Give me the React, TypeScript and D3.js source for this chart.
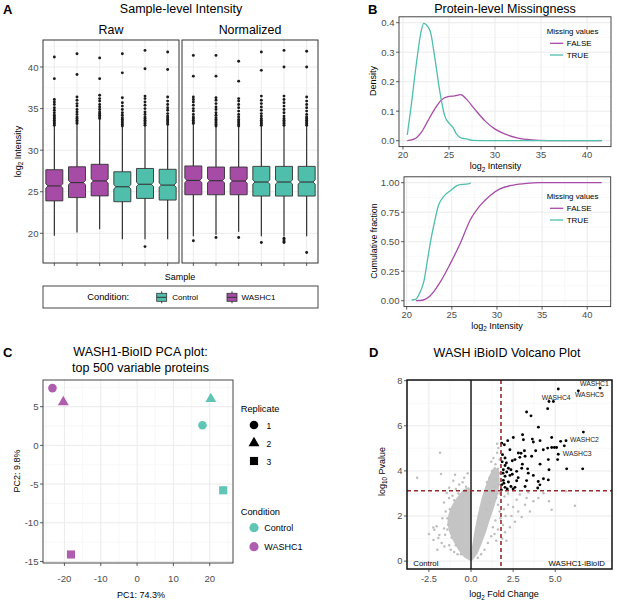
import React from 'react';
import * as d3 from 'd3';

const FONT = '"Liberation Sans", Arial, Helvetica, sans-serif';
const TEAL = '#4fbfac';
const PURPLE = '#a64ca6';
const INK = '#333333';
const TICK = '#4d4d4d';
const MAJOR = '#ebebeb';
const MINOR = '#f4f4f4';

// ---------- A: sample-level intensity ----------
const samples = ['1', '2', '3', '4', '5', '6'];
const sampleCondition = ['WASHC1', 'WASHC1', 'WASHC1', 'Control', 'Control', 'Control'];
const facets = ['Raw', 'Normalized'];
const rawQ1 = [23.9, 24.3, 24.5, 23.8, 24.2, 24.0];
const rawMedian = [25.7, 26.1, 26.3, 25.6, 25.9, 25.8];
const rawQ3 = [27.65, 28.0, 28.3, 27.4, 27.8, 27.7];
const rawLow = [19.7, 20.1, 20.5, 19.3, 19.3, 19.3];
const rawHigh = [32.9, 33.1, 33.7, 32.8, 32.9, 33.0];
const rawOutliers = [
  [33.0, 33.2, 33.4, 33.6, 33.8, 34.0, 34.2, 34.5, 34.8, 35.1, 35.5, 35.8, 36.1, 38.6, 41.2],
  [33.2, 33.4, 33.6, 33.8, 34.0, 34.3, 34.6, 34.9, 35.3, 35.6, 36.0, 36.4, 39.1, 41.6],
  [33.8, 34.0, 34.2, 34.4, 34.6, 34.9, 35.2, 35.5, 35.9, 36.2, 36.6, 38.6, 41.1],
  [32.9, 33.1, 33.3, 33.5, 33.7, 33.9, 34.2, 34.5, 34.9, 35.3, 35.7, 36.3, 39.3, 41.6],
  [33.0, 33.2, 33.4, 33.6, 33.8, 34.0, 34.3, 34.6, 35.0, 35.4, 35.8, 36.2, 36.5, 39.8, 42.0, 18.4],
  [33.1, 33.3, 33.5, 33.7, 33.9, 34.1, 34.4, 34.8, 35.1, 35.5, 35.9, 36.4, 39.7, 41.8],
];
const normQ1 = [24.64, 24.64, 24.64, 24.48, 24.48, 24.48];
const normMedian = [26.36, 26.33, 26.29, 26.17, 26.17, 26.17];
const normQ3 = [28.1, 27.97, 27.97, 28.05, 28.05, 28.05];
const normLow = [19.66, 19.82, 20.2, 19.66, 19.66, 19.66];
const normHigh = [33.1, 32.8, 32.8, 32.9, 32.9, 32.9];
const normOutliers = [
  [33.2, 33.4, 33.6, 33.8, 34.0, 34.3, 34.7, 35.0, 35.4, 35.8, 36.1, 36.4, 38.9, 41.4, 19.1],
  [32.9, 33.1, 33.3, 33.5, 33.7, 33.9, 34.2, 34.5, 34.9, 35.2, 35.6, 36.0, 36.3, 38.9, 41.4, 19.5],
  [32.9, 33.1, 33.3, 33.5, 33.7, 34.0, 34.3, 34.7, 35.1, 35.5, 35.9, 36.2, 38.3, 40.7, 19.5],
  [33.0, 33.2, 33.4, 33.6, 33.8, 34.1, 34.4, 34.8, 35.2, 35.6, 36.0, 36.5, 39.6, 41.8, 18.9],
  [33.0, 33.2, 33.4, 33.6, 33.8, 34.1, 34.5, 34.9, 35.3, 35.7, 36.1, 36.5, 40.0, 42.0, 19.4, 19.2, 19.0, 18.9],
  [33.0, 33.2, 33.4, 33.6, 33.8, 34.0, 34.3, 34.7, 35.1, 35.5, 35.9, 36.4, 40.0, 41.9, 17.7],
];
const intensityTicks = [20, 25, 30, 35, 40];
const intensityMinor = [17.5, 22.5, 27.5, 32.5, 37.5, 42.5];

// ---------- B: protein-level missingness ----------
const densTrueX = [20.47, 20.9, 21.45, 21.99, 22.25, 22.72, 23.0, 23.45, 23.99, 24.53, 25.08, 25.43, 25.8, 26.34, 26.9, 27.6, 30, 35, 41.6];
const densTrueY = [0.02, 0.12, 0.26, 0.373, 0.398, 0.386, 0.367, 0.283, 0.17, 0.085, 0.057, 0.045, 0.023, 0.009, 0.006, 0.001, 0, 0, 0];
const densFalseX = [20.47, 21.27, 21.99, 22.72, 23.45, 24.17, 24.89, 25.62, 26.27, 26.89, 27.79, 28.88, 29.97, 31.05, 32.5, 33.95, 35.76, 38, 41.6];
const densFalseY = [0.0, 0.006, 0.028, 0.068, 0.107, 0.138, 0.149, 0.152, 0.156, 0.141, 0.107, 0.068, 0.04, 0.023, 0.009, 0.003, 0.0005, 0, 0];
const cdfTrueX = [20.55, 21.03, 21.47, 21.92, 22.29, 22.66, 23.03, 23.51, 24.06, 24.8, 25.72, 26.83, 27.1];
const cdfTrueY = [0.006, 0.014, 0.071, 0.17, 0.34, 0.51, 0.65, 0.805, 0.88, 0.93, 0.98, 0.99, 1.0];
const cdfFalseX = [21.03, 21.84, 22.58, 23.69, 24.8, 25.9, 27.01, 28.12, 29.22, 30.33, 31.8, 33.28, 34.76, 41.6];
const cdfFalseY = [0, 0.006, 0.04, 0.155, 0.31, 0.48, 0.68, 0.805, 0.89, 0.947, 0.98, 0.995, 1.0, 1.0];
const missTicksX = [20, 25, 30, 35, 40];
const missMinorX = [22.5, 27.5, 32.5, 37.5];
const densTicks = [0, 0.1, 0.2, 0.3, 0.4];
const densMinor = [0.05, 0.15, 0.25, 0.35];
const cdfTicks = [0, 0.25, 0.5, 0.75, 1];
const cdfMinor = [0.125, 0.375, 0.625, 0.875];

// ---------- C: PCA ----------
const pcaCondition = ['WASHC1', 'WASHC1', 'WASHC1', 'Control', 'Control', 'Control'];
const pcaReplicate = [1, 2, 3, 1, 2, 3];
const pc1 = [-23.3, -20.3, -18.2, 18.0, 20.3, 23.7];
const pc2 = [7.4, 5.6, -14.1, 2.6, 6.0, -5.8];
const pc1Ticks = [-20, -10, 0, 10, 20];
const pc1Minor = [-25, -15, -5, 5, 15, 25];
const pc2Ticks = [-15, -10, -5, 0, 5];
const pc2Minor = [-12.5, -7.5, -2.5, 2.5, 7.5];

// ---------- D: volcano ----------
const fcCutoff = 1.78;
const pCutoff = 3.12;
const leftCore = [[-0.03, 0.04], [-0.4, 0.2], [-0.75, 0.55], [-1.05, 0.95], [-1.25, 1.3], [-1.36, 1.7], [-1.3, 2.05], [-1.12, 2.42], [-0.85, 2.75], [-0.6, 3.0], [-0.35, 3.18], [-0.15, 3.25], [-0.03, 3.1]];
const rightCore = [[0.03, 0.04], [0.35, 0.35], [0.6, 0.8], [0.85, 1.3], [1.1, 1.9], [1.35, 2.45], [1.55, 2.95], [1.66, 3.5], [1.62, 4.0], [1.4, 4.15], [1.14, 3.8], [0.92, 3.35], [0.68, 2.8], [0.44, 2.05], [0.24, 1.3], [0.09, 0.57]];
const greyPoints = [
  [-3.2, 3.7], [-1.84, 4.8], [-1.78, 3.86], [-0.95, 3.83], [-1.05, 3.56], [-1.44, 3.02], [-1.3, 3.25], [-2.04, 1.54],
  [-2.18, 1.39], [-1.94, 1.02], [-2.23, 0.94], [-1.74, 0.8], [-1.6, 1.45], [-1.54, 1.17], [-1.58, 0.65], [-2.24, 1.49],
  [-1.88, 1.16], [-1.7, 1.9], [-1.5, 2.2], [-1.6, 2.6], [-1.3, 2.8], [-0.9, 3.2], [-0.7, 3.4], [-0.5, 3.5], [-1.2, 0.5],
  [-1.0, 0.4], [-0.8, 0.3], [-1.4, 1.9], [-2.5, 1.2], [-2.0, 0.5], [-1.3, 0.7], [-0.4, 3.7], [-0.2, 3.9], [-0.3, 3.3],
  [-1.1, 2.9], [-1.35, 1.6], [-1.25, 2.3], [-1.4, 1.4], [-0.9, 0.7], [-1.15, 1.05], [-0.6, 0.3], [-1.0, 2.7], [-0.75, 3.0],
  [1.33, 4.57], [1.62, 5.01], [1.55, 4.8], [1.45, 4.3], [1.6, 4.1], [1.7, 3.9], [1.25, 4.0], [1.1, 3.7], [1.5, 3.6],
  [1.65, 3.4], [1.4, 3.3], [1.7, 4.5], [1.2, 4.4], [0.95, 3.5], [1.55, 5.2],
  [1.99, 2.87], [2.2, 3.0], [2.71, 2.72], [2.9, 2.95], [3.21, 2.5], [3.5, 2.2], [3.7, 2.65], [4.0, 2.8], [4.63, 2.65],
  [4.79, 2.28], [6.17, 2.45], [4.3, 3.01], [3.4, 3.05], [3.01, 1.96], [2.61, 1.74], [2.31, 1.5], [2.02, 1.28], [2.5, 2.4],
  [2.8, 2.2], [2.2, 2.5], [2.05, 2.0], [1.9, 1.6], [1.95, 2.3], [2.4, 2.0], [3.3, 2.8], [5.64, 3.1], [2.1, 0.9], [1.85, 1.0],
  [1.5, 2.8], [1.6, 2.5], [1.7, 2.2], [1.45, 1.8], [1.3, 1.5], [1.6, 1.4], [1.2, 1.1], [1.0, 0.8], [0.8, 0.5], [1.4, 1.2],
  [1.75, 1.9], [1.1, 2.6], [0.9, 2.3], [1.7, 3.0], [1.3, 3.1], [0.6, 0.3], [0.4, 0.15], [1.5, 0.9],
];
const sigPoints = [
  [7.66, 7.67], [6.37, 7.55], [5.18, 7.63], [4.63, 7.08], [4.89, 7.08], [4.55, 6.76], [3.3, 6.61], [3.56, 6.44], [4.0, 5.94],
  [6.67, 5.72], [3.06, 5.6], [2.51, 5.48], [2.18, 5.34], [3.11, 5.38], [3.64, 5.41], [3.7, 5.28], [4.1, 5.34], [4.79, 5.48],
  [5.32, 5.31], [5.64, 5.34], [5.54, 5.11], [1.82, 5.23], [1.98, 5.16], [2.31, 4.94], [2.81, 4.79], [2.97, 4.78], [3.17, 4.89],
  [3.84, 4.89], [4.29, 4.94], [4.55, 5.01], [4.79, 5.04], [4.95, 5.04], [5.08, 5.04], [5.18, 4.74], [1.87, 4.72], [2.02, 4.57],
  [2.61, 4.5], [3.21, 4.65], [3.6, 4.65], [4.1, 4.3], [4.59, 4.5], [5.14, 4.5], [2.02, 4.24], [2.22, 4.12], [3.01, 4.12],
  [5.68, 4.09], [6.63, 4.09], [3.36, 4.09], [4.63, 4.05], [1.92, 4.05], [2.12, 3.95], [2.37, 4.05], [2.71, 3.98], [2.02, 3.76],
  [2.31, 3.8], [1.92, 3.58], [2.22, 3.51], [2.71, 3.56], [3.3, 3.57], [3.99, 3.53], [4.09, 3.38], [4.59, 3.6], [2.02, 3.27],
  [2.37, 3.31], [2.61, 3.27], [1.82, 3.38], [3.21, 3.31], [3.96, 3.24], [1.85, 4.4], [1.9, 3.9], [2.1, 4.35], [2.45, 4.45],
  [1.95, 3.45], [2.5, 3.2], [2.8, 3.7], [3.4, 3.9], [3.05, 4.3], [1.8, 3.15], [2.15, 3.2], [2.45, 3.85], [3.7, 3.8], [4.3, 3.65], [2.9, 4.6],
];
const geneLabels = ['WASHC1', 'WASHC5', 'WASHC4', 'WASHC2', 'WASHC3'];
const geneLabelFc = [6.47, 6.17, 4.2, 5.88, 5.45];
const geneLabelP = [7.89, 7.37, 7.27, 5.38, 4.79];
const fcTicks = [-2.5, 0, 2.5, 5];
const fcMinor = [-1.25, 1.25, 3.75, 6.25];
const pTicks = [0, 2, 4, 6, 8];
const pMinor = [1, 3, 5, 7];

const condColor = (c: string) => (c === 'Control' ? TEAL : PURPLE);

function Grid({ x0, x1, y0, y1, sx, sy, xMaj, xMin, yMaj, yMin }: any) {
  return (
    <g>
      {(xMin || []).map((v: number) => <line key={'xm' + v} x1={sx(v)} x2={sx(v)} y1={y0} y2={y1} stroke={MINOR} strokeWidth={0.6} />)}
      {(yMin || []).map((v: number) => <line key={'ym' + v} x1={x0} x2={x1} y1={sy(v)} y2={sy(v)} stroke={MINOR} strokeWidth={0.6} />)}
      {(xMaj || []).map((v: number) => <line key={'xM' + v} x1={sx(v)} x2={sx(v)} y1={y0} y2={y1} stroke={MAJOR} strokeWidth={1} />)}
      {(yMaj || []).map((v: number) => <line key={'yM' + v} x1={x0} x2={x1} y1={sy(v)} y2={sy(v)} stroke={MAJOR} strokeWidth={1} />)}
    </g>
  );
}

function YAxis({ x, sy, ticks, fmt, size = 9.6 }: any) {
  return (
    <g>
      {ticks.map((v: number) => (
        <g key={v}>
          <line x1={x - 3} x2={x} y1={sy(v)} y2={sy(v)} stroke={INK} strokeWidth={0.8} />
          <text x={x - 4.5} y={sy(v)} textAnchor="end" dominantBaseline="central" fontSize={size} fill={TICK}>{fmt(v)}</text>
        </g>
      ))}
    </g>
  );
}

function XAxis({ y, sx, ticks, fmt, size = 9.6, gap = 10 }: any) {
  return (
    <g>
      {ticks.map((v: number) => (
        <g key={v}>
          <line x1={sx(v)} x2={sx(v)} y1={y} y2={y + 3} stroke={INK} strokeWidth={0.8} />
          <text x={sx(v)} y={y + gap} textAnchor="middle" dominantBaseline="central" fontSize={size} fill={TICK}>{fmt(v)}</text>
        </g>
      ))}
    </g>
  );
}

function notchPath(cx: number, hw: number, q1: number, med: number, q3: number, y: (v: number) => number) {
  const nh = 0.25, ni = 2.2;
  const l = cx - hw, r = cx + hw;
  return `M${l},${y(q3)}H${r}V${y(med + nh)}L${r - ni},${y(med)}L${r},${y(med - nh)}V${y(q1)}H${l}V${y(med - nh)}L${l + ni},${y(med)}L${l},${y(med + nh)}Z`;
}

function BoxKey({ cx, cy, fill }: any) {
  return (
    <g>
      <line x1={cx} x2={cx} y1={cy - 6} y2={cy + 6} stroke={INK} strokeWidth={1} />
      <rect x={cx - 5} y={cy - 4} width={10} height={8} fill={fill} stroke={INK} strokeWidth={0.8} />
      <line x1={cx - 5} x2={cx + 5} y1={cy} y2={cy} stroke={INK} strokeWidth={1} />
    </g>
  );
}

function PanelA() {
  const top = 40, bottom = 263;
  const y = d3.scaleLinear().domain([16.43, 43.25]).range([bottom, top]);
  const facetData = [
    { name: facets[0], x0: 43, x1: 179, q1: rawQ1, med: rawMedian, q3: rawQ3, lo: rawLow, hi: rawHigh, out: rawOutliers },
    { name: facets[1], x0: 182, x1: 318, q1: normQ1, med: normMedian, q3: normQ3, lo: normLow, hi: normHigh, out: normOutliers },
  ];
  return (
    <g>
      <text x={3} y={9} dominantBaseline="central" fontSize={13} fontWeight={700}>A</text>
      <text x={181} y={9} textAnchor="middle" dominantBaseline="central" fontSize={12.5}>Sample-level Intensity</text>
      {facetData.map((f) => {
        const x = d3.scalePoint<string>().domain(samples).range([f.x0, f.x1]).padding(0.5);
        const hw = x.step() * 0.375;
        return (
          <g key={f.name}>
            <text x={(f.x0 + f.x1) / 2} y={29.5} textAnchor="middle" dominantBaseline="central" fontSize={12.4}>{f.name}</text>
            <Grid x0={f.x0} x1={f.x1} y0={top} y1={bottom} sx={(s: string) => x(s)} sy={y} xMaj={samples} yMaj={intensityTicks} yMin={intensityMinor} />
            {samples.map((s, i) => {
              const cx = x(s) as number;
              return (
                <g key={s}>
                  <line x1={cx} x2={cx} y1={y(f.lo[i])} y2={y(f.hi[i])} stroke="#222" strokeWidth={1.1} />
                  <path d={notchPath(cx, hw, f.q1[i], f.med[i], f.q3[i], y)} fill={condColor(sampleCondition[i])} stroke={INK} strokeWidth={0.9} />
                  <line x1={cx - hw + 2.2} x2={cx + hw - 2.2} y1={y(f.med[i])} y2={y(f.med[i])} stroke={INK} strokeWidth={1.1} />
                  {f.out[i].map((v, j) => <circle key={j} cx={cx} cy={y(v)} r={1.45} fill="#1a1a1a" />)}
                  <line x1={cx} x2={cx} y1={bottom} y2={bottom + 3} stroke={INK} strokeWidth={0.8} />
                </g>
              );
            })}
            <rect x={f.x0} y={top} width={f.x1 - f.x0} height={bottom - top} fill="none" stroke={INK} strokeWidth={1} />
          </g>
        );
      })}
      <YAxis x={43} sy={y} ticks={intensityTicks} fmt={(v: number) => String(v)} />
      <text transform={`translate(17.5,151.5) rotate(-90)`} textAnchor="middle" dominantBaseline="central" fontSize={9}>
        log<tspan fontSize={6.3} dy={2.5}>2</tspan><tspan dy={-2.5}> Intensity</tspan>
      </text>
      <text x={180} y={277} textAnchor="middle" dominantBaseline="central" fontSize={9}>Sample</text>
      <rect x={43} y={286} width={275} height={22} fill="none" stroke={INK} strokeWidth={0.9} />
      <text x={87.3} y={297.3} dominantBaseline="central" fontSize={9.3}>Condition:</text>
      <BoxKey cx={161.7} cy={297.3} fill={TEAL} />
      <text x={172.3} y={297.5} dominantBaseline="central" fontSize={8}>Control</text>
      <BoxKey cx={232} cy={297.3} fill={PURPLE} />
      <text x={241.5} y={297.5} dominantBaseline="central" fontSize={8}>WASHC1</text>
    </g>
  );
}

function curve(xs: number[], ys: number[], sx: any, sy: any) {
  return d3.line<number>().x((_, i) => sx(xs[i])).y((_, i) => sy(ys[i])).curve(d3.curveMonotoneX)(xs) || '';
}

function MissLegend({ x, y }: any) {
  return (
    <g>
      <text x={x - 3.3} y={y} dominantBaseline="central" fontSize={7.9}>Missing values</text>
      <line x1={x} x2={x + 13.3} y1={y + 12.3} y2={y + 12.3} stroke={PURPLE} strokeWidth={1.3} />
      <text x={x + 16.7} y={y + 12.3} dominantBaseline="central" fontSize={8}>FALSE</text>
      <line x1={x} x2={x + 13.3} y1={y + 24} y2={y + 24} stroke={TEAL} strokeWidth={1.3} />
      <text x={x + 16.7} y={y + 24} dominantBaseline="central" fontSize={8}>TRUE</text>
    </g>
  );
}

function PanelB() {
  const xT = d3.scaleLinear().domain([19.57, 42.6]).range([399, 611]);
  const yT = d3.scaleLinear().domain([-0.02, 0.42]).range([146.6, 16.8]);
  const xE = d3.scaleLinear().domain([19.7, 42.6]).range([404, 610.7]);
  const yE = d3.scaleLinear().domain([-0.05, 1.05]).range([306.6, 176.8]);
  return (
    <g>
      <text x={368} y={9} dominantBaseline="central" fontSize={13} fontWeight={700}>B</text>
      <text x={505} y={9} textAnchor="middle" dominantBaseline="central" fontSize={12.5}>Protein-level Missingness</text>

      <Grid x0={399} x1={611} y0={16.8} y1={146.6} sx={xT} sy={yT} xMaj={missTicksX} xMin={missMinorX} yMaj={densTicks} yMin={densMinor} />
      <path d={curve(densFalseX, densFalseY, xT, yT)} fill="none" stroke={PURPLE} strokeWidth={1.3} />
      <path d={curve(densTrueX, densTrueY, xT, yT)} fill="none" stroke={TEAL} strokeWidth={1.3} />
      <rect x={399} y={16.8} width={212} height={129.8} fill="none" stroke={INK} strokeWidth={0.9} />
      <YAxis x={399} sy={yT} ticks={densTicks} fmt={d3.format('.1f')} />
      <XAxis y={146.6} sx={xT} ticks={missTicksX} fmt={(v: number) => String(v)} gap={7.6} size={9.4} />
      <MissLegend x={550} y={31} />
      <text transform={`translate(373,81) rotate(-90)`} textAnchor="middle" dominantBaseline="central" fontSize={9}>Density</text>
      <text x={495.5} y={166} textAnchor="middle" dominantBaseline="central" fontSize={9}>
        log<tspan fontSize={6.3} dy={2.5}>2</tspan><tspan dy={-2.5}> Intensity</tspan>
      </text>

      <Grid x0={404} x1={610.7} y0={176.8} y1={306.6} sx={xE} sy={yE} xMaj={missTicksX} xMin={missMinorX} yMaj={cdfTicks} yMin={cdfMinor} />
      <path d={curve(cdfFalseX, cdfFalseY, xE, yE)} fill="none" stroke={PURPLE} strokeWidth={1.3} />
      <path d={curve(cdfTrueX, cdfTrueY, xE, yE)} fill="none" stroke={TEAL} strokeWidth={1.3} />
      <rect x={404} y={176.8} width={206.7} height={129.8} fill="none" stroke={INK} strokeWidth={0.9} />
      <YAxis x={404} sy={yE} ticks={cdfTicks} fmt={d3.format('.2f')} />
      <XAxis y={306.6} sx={xE} ticks={missTicksX} fmt={(v: number) => String(v)} gap={7.6} size={9.4} />
      <MissLegend x={550} y={196} />
      <text transform={`translate(374,241) rotate(-90)`} textAnchor="middle" dominantBaseline="central" fontSize={8.8}>Cumulative fraction</text>
      <text x={497} y={325.5} textAnchor="middle" dominantBaseline="central" fontSize={9}>
        log<tspan fontSize={6.3} dy={2.5}>2</tspan><tspan dy={-2.5}> Intensity</tspan>
      </text>
    </g>
  );
}

function Shape({ kind, x, y, fill, scale = 1, opacity = 1 }: any) {
  if (kind === 1) return <circle cx={x} cy={y} r={4.3 * scale} fill={fill} fillOpacity={opacity} />;
  const sym = kind === 2 ? d3.symbolTriangle : d3.symbolSquare;
  const size = kind === 2 ? 52 * scale * scale : 66 * scale * scale;
  return <path d={d3.symbol(sym, size)() || ''} transform={`translate(${x},${y})`} fill={fill} fillOpacity={opacity} />;
}

function PanelC() {
  const x0 = 43, x1 = 233, y0 = 380, y1 = 563;
  const x = d3.scaleLinear().domain([-25.9, 26.4]).range([x0, x1]);
  const y = d3.scaleLinear().domain([-15.2, 8.45]).range([y1, y0]);
  return (
    <g>
      <text x={3} y={352.5} dominantBaseline="central" fontSize={13} fontWeight={700}>C</text>
      <text x={140.5} y={352} textAnchor="middle" dominantBaseline="central" fontSize={12.5}>WASH1-BioID PCA plot:</text>
      <text x={140.5} y={367.5} textAnchor="middle" dominantBaseline="central" fontSize={12.5}>top 500 variable proteins</text>
      <Grid x0={x0} x1={x1} y0={y0} y1={y1} sx={x} sy={y} xMaj={pc1Ticks} xMin={pc1Minor} yMaj={pc2Ticks} yMin={pc2Minor} />
      {pc1.map((v, i) => (
        <Shape key={i} kind={pcaReplicate[i]} x={x(v)} y={y(pc2[i])} fill={condColor(pcaCondition[i])} opacity={0.9} />
      ))}
      <rect x={x0} y={y0} width={x1 - x0} height={y1 - y0} fill="none" stroke={INK} strokeWidth={0.9} />
      <YAxis x={x0} sy={y} ticks={pc2Ticks} fmt={(v: number) => String(v)} />
      <XAxis y={y1} sx={x} ticks={pc1Ticks} fmt={(v: number) => String(v)} gap={15} />
      <text x={141} y={595} textAnchor="middle" dominantBaseline="central" fontSize={9}>PC1: 74.3%</text>
      <text transform={`translate(17,471) rotate(-90)`} textAnchor="middle" dominantBaseline="central" fontSize={9}>PC2: 9.8%</text>

      <text x={240.7} y={409} dominantBaseline="central" fontSize={9.3}>Replicate</text>
      {[1, 2, 3].map((r, i) => (
        <g key={r}>
          <Shape kind={r} x={254} y={425 + i * 18} fill="#000" />
          <text x={266.5} y={425.5 + i * 18} dominantBaseline="central" fontSize={8.5}>{r}</text>
        </g>
      ))}
      <text x={240.7} y={511.7} dominantBaseline="central" fontSize={9.3}>Condition</text>
      {['Control', 'WASHC1'].map((c, i) => (
        <g key={c}>
          <circle cx={254} cy={527.7 + i * 19} r={4.6} fill={condColor(c)} fillOpacity={0.9} />
          <text x={264.3} y={528 + i * 19} dominantBaseline="central" fontSize={9}>{c}</text>
        </g>
      ))}
    </g>
  );
}

function PanelD() {
  const x0 = 407, x1 = 612, y0 = 380, y1 = 569;
  const x = d3.scaleLinear().domain([-3.8, 8.37]).range([x0, x1]);
  const y = d3.scaleLinear().domain([-0.35, 8.03]).range([y1, y0]);
  const poly = (pts: number[][]) => 'M' + pts.map((p) => `${x(p[0])},${y(p[1])}`).join('L') + 'Z';
  return (
    <g>
      <text x={369} y={352.5} dominantBaseline="central" fontSize={13} fontWeight={700}>D</text>
      <text x={507} y={352.5} textAnchor="middle" dominantBaseline="central" fontSize={12.5}>WASH iBioID Volcano Plot</text>
      <Grid x0={x0} x1={x1} y0={y0} y1={y1} sx={x} sy={y} xMaj={fcTicks} xMin={fcMinor} yMaj={pTicks} yMin={pMinor} />
      <path d={poly(leftCore)} fill="#c4c4c4" stroke="#c4c4c4" strokeWidth={1.5} strokeLinejoin="round" />
      <path d={poly(rightCore)} fill="#c4c4c4" stroke="#c4c4c4" strokeWidth={1.5} strokeLinejoin="round" />
      {greyPoints.map((p, i) => <circle key={i} cx={x(p[0])} cy={y(p[1])} r={1.25} fill="#bebebe" />)}
      {sigPoints.map((p, i) => <circle key={i} cx={x(p[0])} cy={y(p[1])} r={1.45} fill="#000" />)}
      <line x1={x(0)} x2={x(0)} y1={y0} y2={y1} stroke="#000" strokeWidth={1.3} />
      <line x1={x(fcCutoff)} x2={x(fcCutoff)} y1={y0} y2={y1} stroke="#962b2e" strokeWidth={1.6} strokeDasharray="4 3" />
      <line x1={x0} x2={x1} y1={y(pCutoff)} y2={y(pCutoff)} stroke="#962b2e" strokeWidth={1.6} strokeDasharray="4 3" />
      {geneLabels.map((g, i) => (
        <text key={g} x={x(geneLabelFc[i])} y={y(geneLabelP[i])} dominantBaseline="central" fontSize={6.8} fill="#222">{g}</text>
      ))}
      <text x={413.3} y={563.5} dominantBaseline="central" fontSize={7.8}>Control</text>
      <text x={605} y={563.5} textAnchor="end" dominantBaseline="central" fontSize={7.8}>WASHC1-iBioID</text>
      <rect x={x0} y={y0} width={x1 - x0} height={y1 - y0} fill="none" stroke="#111" strokeWidth={1.5} />
      <YAxis x={x0} sy={y} ticks={pTicks} fmt={(v: number) => String(v)} size={9.3} />
      <XAxis y={y1} sx={x} ticks={fcTicks} fmt={(v: number) => (v < 0 ? '-' : '') + Math.abs(v).toFixed(1)} size={9.3} />
      <text transform={`translate(381.7,471.5) rotate(-90)`} textAnchor="middle" dominantBaseline="central" fontSize={9}>
        log<tspan fontSize={6.3} dy={2.5}>10</tspan><tspan dy={-2.5}> Pvalue</tspan>
      </text>
      <text x={504} y={594} textAnchor="middle" dominantBaseline="central" fontSize={9}>
        log<tspan fontSize={6.3} dy={2.5}>2</tspan><tspan dy={-2.5}> Fold Change</tspan>
      </text>
    </g>
  );
}

export default function App() {
  return (
    <svg width={617} height={601} fontFamily={FONT} style={{ position: 'absolute', left: 0, top: 0, background: '#fff' }}>
      <rect width={617} height={601} fill="#fff" />
      <PanelA />
      <PanelB />
      <PanelC />
      <PanelD />
    </svg>
  );
}
